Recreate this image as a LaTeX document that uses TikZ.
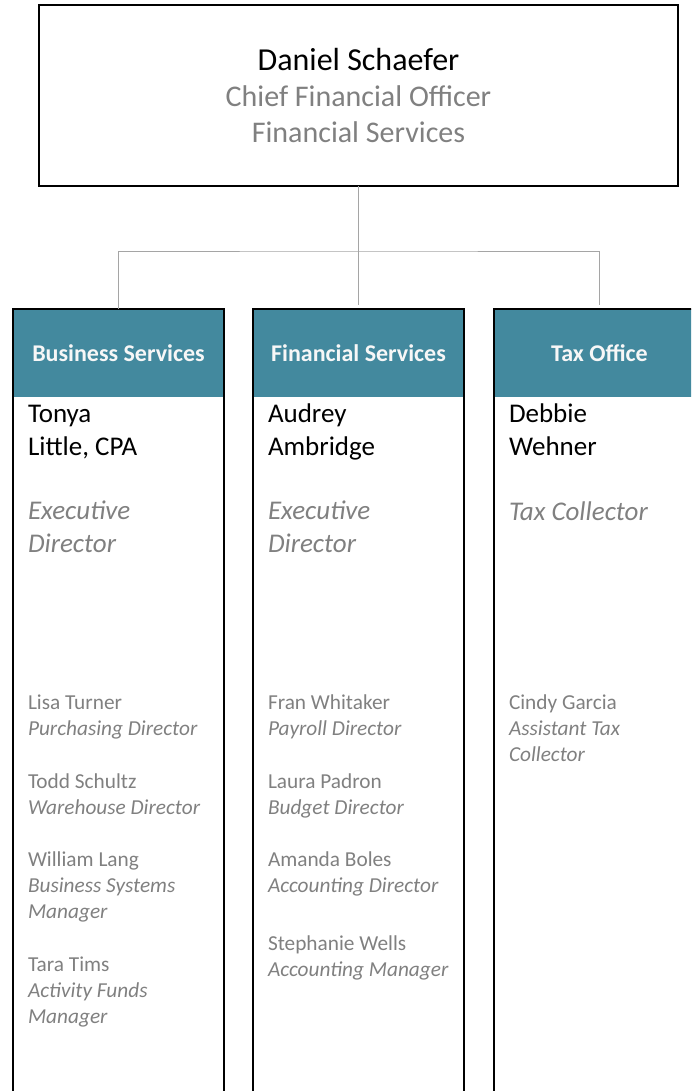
\documentclass[tikz,border=0pt]{standalone}
\usepackage{fontspec}
\setmainfont{Carlito}
\usepackage{tikz}
\usetikzlibrary{positioning}
\definecolor{deptteal}{RGB}{67, 137, 158}
\definecolor{titlegray}{RGB}{128, 128, 128}
\definecolor{linegray}{RGB}{165, 165, 165}

\begin{document}
\begin{tikzpicture}[
    x=1pt, y=1pt,
    every node/.style={inner sep=0pt, outer sep=0pt},
    chief/.style={draw=black, line width=2pt, minimum width=639pt, minimum height=181pt, align=center, font=\fontsize{30}{36}\selectfont},
    deptcol/.style={draw=black, line width=2pt, minimum width=211pt, minimum height=800pt, anchor=north west},
    depthead/.style={fill=deptteal, minimum width=211pt, minimum height=88pt, anchor=north west, text=white!94!gray, font=\fontsize{24}{28}\selectfont\bfseries},
    leader/.style={anchor=base west, align=left, font=\fontsize{27}{32.5}\selectfont},
    leadtitle/.style={leader, text=titlegray, font=\fontsize{27}{33}\selectfont\itshape},
    staff/.style={anchor=base west, align=left, text=titlegray, font=\fontsize{21.3}{26}\selectfont},
    link/.style={draw=linegray, line width=1pt}
]
    \useasboundingbox (0,0) rectangle (691,-1091);
    \clip (0,0) rectangle (691,-1091);

    \node[chief] (boss) at (358.5,-95.5) {{\fontsize{32}{36}\selectfont Daniel Schaefer}\\{\color{titlegray}Chief Financial Officer}\\{\color{titlegray}Financial Services}};

    \node[depthead] (business) at (13,-309) {Business Services};
    \node[depthead] (finance) at (253,-309) {Financial Services};
    \node[depthead] (tax) at (494,-309) {Tax Office};
    \node[deptcol] (businesscol) at (13,-309) {};
    \node[deptcol] (financecol) at (253,-309) {};
    \node[deptcol] (taxcol) at (494,-309) {};

    \coordinate (branch) at (358.5,-251);
    \draw[link] (boss.south) -- (branch);
    \draw[link, shorten >=4pt] (branch) -- (finance.north);
    \draw[link, shorten >=4pt] (business.north) |- (branch) -| (tax.north);

    \node[leader] (tonya) at (28,-455) {Tonya\\Little, CPA};
    \node[leadtitle] (tonyatitle) at (28,-552) {Executive\\Director};
    \node[leader] (audrey) at (268,-455) {Audrey\\Ambridge};
    \node[leadtitle] (audreytitle) at (268,-552) {Executive\\Director};
    \node[leader] (debbie) at (509,-455) {Debbie\\Wehner};
    \node[leadtitle] (debbietitle) at (509,-520) {Tax Collector};

    \node[staff] (lisa) at (28,-735) {Lisa Turner\\\textit{Purchasing Director}};
    \node[staff] (todd) at (28,-814) {Todd Schultz\\\textit{Warehouse Director}};
    \node[staff] (william) at (28,-918) {William Lang\\\textit{Business Systems}\\\textit{Manager}};
    \node[staff] (tara) at (28,-1023) {Tara Tims\\\textit{Activity Funds}\\\textit{Manager}};

    \node[staff] (fran) at (268,-735) {Fran Whitaker\\\textit{Payroll Director}};
    \node[staff] (laura) at (268,-814) {Laura Padron\\\textit{Budget Director}};
    \node[staff] (amanda) at (268,-892) {Amanda Boles\\\textit{Accounting Director}};
    \node[staff] (stephanie) at (268,-976) {Stephanie Wells\\\textit{Accounting Manager}};

    \node[staff] (cindy) at (509,-761) {Cindy Garcia\\\textit{Assistant Tax}\\\textit{Collector}};
\end{tikzpicture}
\end{document}
